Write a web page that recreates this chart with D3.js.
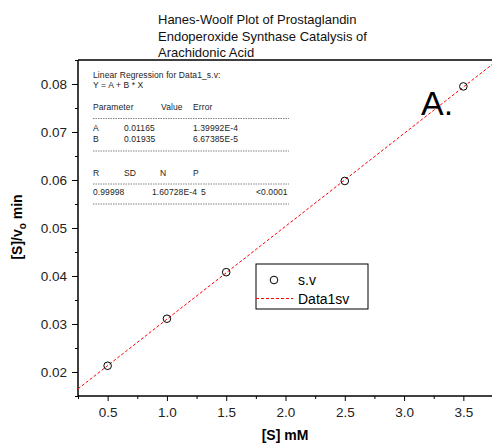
<!DOCTYPE html>
<html>
<head>
<meta charset="utf-8">
<title>Hanes-Woolf Plot</title>
<script src="https://cdn.jsdelivr.net/npm/d3@7"></script>
<style>
  html, body { margin: 0; background: #fff; }
  svg { display: block; font-family: "Liberation Sans", Arial, sans-serif; }
</style>
</head>
<body>
<script>
// data
var conc = [0.5, 1.0, 1.5, 2.5, 3.5];            // [S] mM
var ratio = [0.0213, 0.0311, 0.0408, 0.0598, 0.0795]; // [S]/vo min
var fitA = 0.01165, fitB = 0.01935;
var xTicks = [0.5, 1.0, 1.5, 2.0, 2.5, 3.0, 3.5];
var yTicks = [0.02, 0.03, 0.04, 0.05, 0.06, 0.07, 0.08];
var titleLines = ["Hanes-Woolf Plot of Prostaglandin", "Endoperoxide Synthase Catalysis of", "Arachidonic Acid"];
var statRows = [
  {y: 78, cells: [["Linear Regression for Data1_s.v:", 93]]},
  {y: 87.5, cells: [["Y = A + B * X", 93]]},
  {y: 110, cells: [["Parameter", 93], ["Value", 161], ["Error", 193]]},
  {y: 131, cells: [["A", 93], ["0.01165", 124], ["1.39992E-4", 193]]},
  {y: 141.5, cells: [["B", 93], ["0.01935", 124], ["6.67385E-5", 193]]},
  {y: 175.5, cells: [["R", 93], ["SD", 124], ["N", 160], ["P", 193]]},
  {y: 194.5, cells: [["0.99998", 93], ["1.60728E-4", 152], ["5", 201], ["<0.0001", 256]]}
];
var statRules = [118.5, 151, 184, 204];

var W = 492, H = 444;
var m = {left: 78, top: 60, right: 493, bottom: 396};

var svg = d3.select("body").append("svg").attr("width", W).attr("height", H);

var x = d3.scaleLinear().domain([0.25, 3.75]).range([m.left, m.right]);
var y = d3.scaleLinear().domain([0.015, 0.085]).range([m.bottom, m.top]);

// clip for the fit line
svg.append("clipPath").attr("id", "clip")
  .append("rect").attr("x", m.left).attr("y", m.top)
  .attr("width", m.right - m.left).attr("height", m.bottom - m.top);

// frame top + right
svg.append("path")
  .attr("d", "M" + m.left + "," + m.top + "H" + m.right + "V" + m.bottom)
  .attr("fill", "none").attr("stroke", "#000").attr("stroke-width", 1.5);

// x axis
var xMinor = d3.range(0.25, 3.76, 0.25).filter(function (v) { return Math.abs(v * 2 - Math.round(v * 2)) > 0.01; });
svg.append("g").attr("transform", "translate(0," + m.bottom + ")")
  .call(d3.axisBottom(x).tickValues(xMinor).tickSize(3).tickFormat(""))
  .call(function (g) { g.select(".domain").remove(); });
svg.append("g").attr("transform", "translate(0," + m.bottom + ")")
  .call(d3.axisBottom(x).tickValues(xTicks).tickSize(5).tickPadding(6).tickFormat(d3.format(".1f")))
  .call(function (g) {
    g.select(".domain").attr("d", "M" + m.left + ",0H" + m.right).attr("stroke-width", 1.5);
    g.selectAll("text").attr("font-size", 13.5).attr("font-family", "Liberation Sans, Arial, sans-serif").attr("fill", "#222");
  });

// y axis
var yMinor = [0.015, 0.025, 0.035, 0.045, 0.055, 0.065, 0.075, 0.085];
svg.append("g").attr("transform", "translate(" + m.left + ",0)")
  .call(d3.axisLeft(y).tickValues(yMinor).tickSize(3).tickFormat(""))
  .call(function (g) { g.select(".domain").remove(); });
svg.append("g").attr("transform", "translate(" + m.left + ",0)")
  .call(d3.axisLeft(y).tickValues(yTicks).tickSize(6).tickPadding(5).tickFormat(d3.format(".2f")))
  .call(function (g) {
    g.select(".domain").attr("d", "M0," + m.top + "V" + m.bottom).attr("stroke-width", 1.5);
    g.selectAll("text").attr("font-size", 13.5).attr("font-family", "Liberation Sans, Arial, sans-serif").attr("fill", "#222");
  });

// fitted line
svg.append("line")
  .attr("clip-path", "url(#clip)")
  .attr("x1", x(0.25)).attr("y1", y(fitA + fitB * 0.25))
  .attr("x2", x(3.75)).attr("y2", y(fitA + fitB * 3.75))
  .attr("stroke", "#f00").attr("stroke-width", 1).attr("stroke-dasharray", "3,2");

// points
svg.selectAll("circle.pt").data(conc).enter().append("circle")
  .attr("class", "pt")
  .attr("cx", function (d) { return x(d); })
  .attr("cy", function (d, i) { return y(ratio[i]); })
  .attr("r", 3.8).attr("fill", "none").attr("stroke", "#000").attr("stroke-width", 1);

// title
svg.append("g").selectAll("text").data(titleLines).enter().append("text")
  .attr("x", 158).attr("y", function (d, i) { return 24 + i * 16.5; })
  .attr("font-size", 13).attr("fill", "#111").text(function (d) { return d; });

// regression stats
var st = svg.append("g").attr("font-size", 8.5).attr("letter-spacing", 0.1).attr("fill", "#222");
statRows.forEach(function (r) {
  r.cells.forEach(function (c) {
    st.append("text").attr("x", c[1]).attr("y", r.y).text(c[0]);
  });
});
st.selectAll("line").data(statRules).enter().append("line")
  .attr("x1", 93).attr("x2", 289)
  .attr("y1", function (d) { return d; }).attr("y2", function (d) { return d; })
  .attr("stroke", "#333").attr("stroke-width", 0.6).attr("stroke-dasharray", "1.5,1");

// A.
svg.append("text").attr("x", 421).attr("y", 115).attr("font-size", 34).attr("fill", "#000").text("A.");

// legend
var lg = svg.append("g");
lg.append("rect").attr("x", 256).attr("y", 264).attr("width", 112).attr("height", 45)
  .attr("fill", "#fff").attr("stroke", "#000").attr("stroke-width", 1);
lg.append("circle").attr("cx", 274).attr("cy", 280).attr("r", 3.8)
  .attr("fill", "none").attr("stroke", "#000");
lg.append("text").attr("x", 298).attr("y", 285).attr("font-size", 14).text("s.v");
lg.append("line").attr("x1", 256).attr("x2", 293).attr("y1", 298.5).attr("y2", 298.5)
  .attr("stroke", "#f00").attr("stroke-dasharray", "3,2");
lg.append("text").attr("x", 298).attr("y", 304).attr("font-size", 14).text("Data1sv");

// axis titles
svg.append("text").attr("x", 285).attr("y", 440).attr("text-anchor", "middle")
  .attr("font-size", 14).attr("font-weight", "bold").text("[S] mM");
var yl = svg.append("text").attr("transform", "translate(22,227) rotate(-90)")
  .attr("text-anchor", "middle").attr("font-size", 14).attr("font-weight", "bold");
yl.append("tspan").text("[S]/v");
yl.append("tspan").attr("dy", 4).attr("font-size", 10).text("o");
yl.append("tspan").attr("dy", -4).text(" min");
</script>
</body>
</html>
